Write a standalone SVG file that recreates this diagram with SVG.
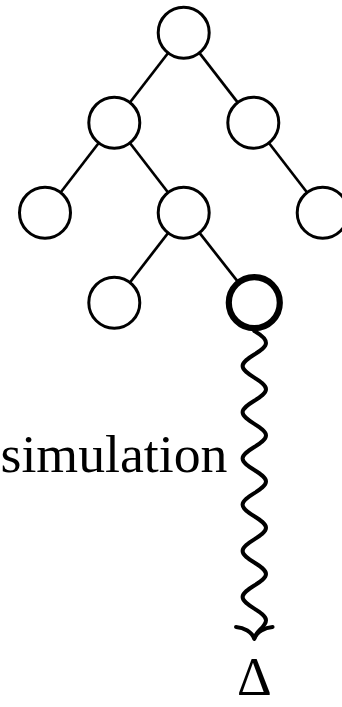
<svg xmlns="http://www.w3.org/2000/svg" width="342" height="707" viewBox="0 0 342 707">
<style>
.edge{stroke:#000;stroke-width:2.7;fill:none}
.node{fill:#fff;stroke:#000;stroke-width:3}
.bold{stroke-width:6.2}
.snake{fill:none;stroke:#000;stroke-width:4;stroke-linecap:round;stroke-linejoin:round}
.lbl{font-family:"Liberation Serif","DejaVu Serif",serif;fill:#000}
</style>
<rect width="342" height="707" fill="#fff"/>
<g id="connectors">
<line class="edge" x1="183.7" y1="32.7" x2="114.3" y2="122.7"/>
<line class="edge" x1="183.7" y1="32.7" x2="253.3" y2="122.7"/>
<line class="edge" x1="114.3" y1="122.7" x2="45" y2="212.7"/>
<line class="edge" x1="114.3" y1="122.7" x2="183.7" y2="212.7"/>
<line class="edge" x1="253.3" y1="122.7" x2="322.7" y2="212.7"/>
<line class="edge" x1="183.7" y1="212.7" x2="114.3" y2="302.7"/>
<line class="edge" x1="183.7" y1="212.7" x2="254.3" y2="302.7"/>
<path id="simulation-edge" class="snake" d="M 254.3 331 C 258.5 333.5 266 337.5 266 343 C 266 351.4 242.6 357.7 242.6 366.1 C 242.6 374.5 266 380.8 266 389.2 C 266 397.6 242.6 403.9 242.6 412.3 C 242.6 420.7 266 427 266 435.4 C 266 443.8 242.6 450.1 242.6 458.5 C 242.6 466.9 266 473.2 266 481.6 C 266 490 242.6 496.3 242.6 504.7 C 242.6 513.1 266 519.4 266 527.8 C 266 536.2 242.6 542.5 242.6 550.9 C 242.6 559.3 266 565.6 266 574 C 266 582.4 242.6 588.7 242.6 597.1 C 242.6 605.5 266 611.8 266 620.2 C 266 627 256 631 254.3 638"/>
<path class="snake" d="M 236 627 C 244 627.5 252 632 254.3 639 C 256.6 632 264.6 627.5 272.6 627"/>
</g>
<g id="n-root"><circle class="node" cx="183.7" cy="32.7" r="25.5"/></g>
<g id="n-l"><circle class="node" cx="114.3" cy="122.7" r="25.5"/></g>
<g id="n-r"><circle class="node" cx="253.3" cy="122.7" r="25.5"/></g>
<g id="n-ll"><circle class="node" cx="45" cy="212.7" r="25.5"/></g>
<g id="n-lr"><circle class="node" cx="183.7" cy="212.7" r="25.5"/></g>
<g id="n-rr"><circle class="node" cx="322.7" cy="212.7" r="25.5"/></g>
<g id="n-lrl"><circle class="node" cx="114.3" cy="302.7" r="25.5"/></g>
<g id="n-lrr"><circle class="node bold" cx="254.3" cy="302.7" r="25.5"/></g>
<g id="label-simulation"><text class="lbl" x="0.5" y="471.7" font-size="52" textLength="227" lengthAdjust="spacingAndGlyphs">simulation</text></g>
<g id="label-delta"><text class="lbl" x="254.3" y="694.5" font-size="54" text-anchor="middle">Δ</text></g>
</svg>
